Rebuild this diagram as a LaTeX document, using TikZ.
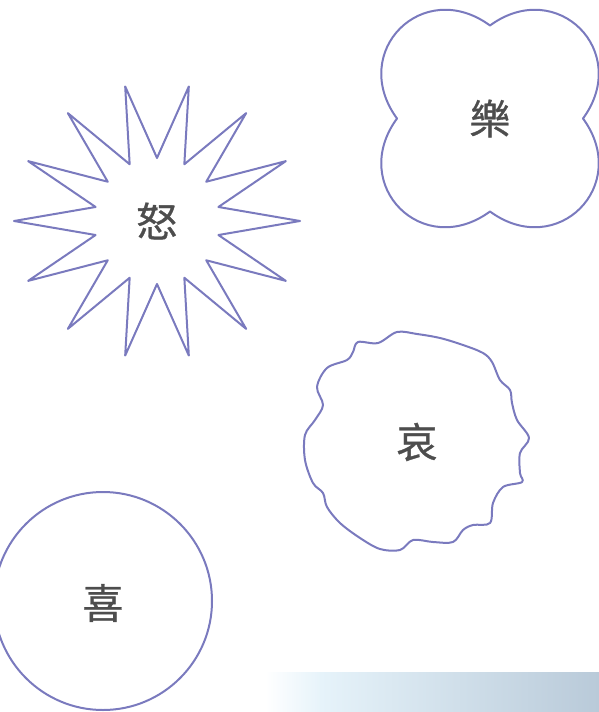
\documentclass[tikz,border=0pt]{standalone}
\usepackage{fontspec}
\newfontfamily\cjkfont[FakeBold=0.8]{Noto Sans CJK TC}
\definecolor{shapeblue}{RGB}{122,122,190}
\definecolor{textgray}{RGB}{77,77,77}
\definecolor{barlight}{RGB}{230,243,250}
\definecolor{bardark}{RGB}{185,202,217}
\tikzset{
	outline/.style={draw=shapeblue, line width=1pt, line join=round},
	feeling/.style={text=textgray, font=\cjkfont\fontsize{20.5}{20.5}\selectfont, inner sep=0pt}
}
\begin{document}
\begin{tikzpicture}[x=0.5pt, y=-0.5pt]
		\useasboundingbox (0,0) rectangle (599,712);
		\node[feeling] (nu) at (157,221) {怒};
		\node[feeling] (le) at (490,118.5) {樂};
		\node[feeling] (ai) at (417,442) {哀};
		\node[feeling] (xi) at (103,603) {喜};
		
		% background bar
		\shade[left color=white, right color=barlight] (265,672) rectangle (322,712);
		\shade[left color=barlight, right color=bardark] (320,672) rectangle (599,712);
		
		% star
		\foreach \i in {0,...,27}{
			\pgfmathsetmacro\rx{mod(\i,2)==0 ? 143 : 63}
			\pgfmathsetmacro\ry{mod(\i,2)==0 ? 138 : 63}
			\pgfmathsetmacro\px{157+\rx*cos(\i*360/28)}
			\pgfmathsetmacro\py{221+\ry*sin(\i*360/28)}
			\coordinate (S\i) at (\px,\py);
		}
		\draw[outline] (S0) \foreach \i in {1,...,27}{-- (S\i)} -- cycle;
		
		% four lobes
		\begin{scope}[shift={(le)}]
			\draw[outline] (0,-93) .. controls (-67,-142) and (-142,-67) .. (-93,0)
				.. controls (-142,67) and (-67,142) .. (0,93)
				.. controls (67,142) and (142,67) .. (93,0)
				.. controls (142,-67) and (67,-142) .. (0,-93) -- cycle;
		\end{scope}
		
		% wavy circle
		\draw[outline] plot[smooth cycle, tension=0.55] coordinates {
			(397,332) (417,334) (440,338) (463,345) (483,353) (492,362)
			(500,380) (510,390) (512,403) (517,420) (529,438) (520,453)
			(520,473) (522,482) (503,487) (493,503) (490,523) (473,525)
			(463,530) (453,542) (433,542) (413,540) (400,550) (380,549)
			(360,538) (340,523) (327,507) (323,493) (313,483) (305,460)
			(305,435) (315,420) (323,405) (317,387) (327,368) (347,360)
			(353,352) (358,342) (378,343)};
		
		% circle
		\draw[outline] (xi) ++(0,-2) circle[radius=109];
	\end{tikzpicture}
\end{document}
